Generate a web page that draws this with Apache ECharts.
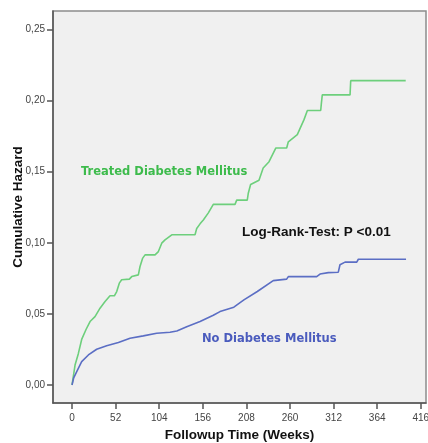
<!DOCTYPE html>
<html>
<head>
<meta charset="utf-8">
<script src="https://cdn.jsdelivr.net/npm/echarts@6/dist/echarts.min.js"></script>
<style>
html,body{margin:0;padding:0;background:#ffffff;}
#c{width:428px;height:443px;}
</style>
</head>
<body>
<div id="c"></div>
<script>
// Treated Diabetes Mellitus: [week, cumulative hazard]
var treatedWeeks = [0,3.6,7.5,11.5,16.7,21.5,27.4,33.4,39.4,45.3,50.5,53.3,56.4,59.2,68.4,71.2,79.1,81.1,84.3,87.1,99,103,107,110.9,119,146.7,148.7,152.7,156.6,162.6,168.5,194.4,196.4,209,210.3,213,223,228,235,243,256,258,268.7,276.7,280.7,296.6,297.4,298.5,331.6,332.4,398];
var treatedHazard = [0,0.014,0.022,0.032,0.039,0.0446,0.048,0.054,0.0587,0.0627,0.0627,0.0657,0.0716,0.074,0.0744,0.0762,0.0774,0.0833,0.0892,0.0915,0.0915,0.0938,0.0997,0.102,0.1056,0.1056,0.110,0.1133,0.116,0.121,0.127,0.127,0.130,0.130,0.135,0.141,0.144,0.1526,0.157,0.1666,0.1666,0.171,0.176,0.1866,0.193,0.193,0.198,0.204,0.204,0.214,0.214];
// No Diabetes Mellitus
var noDmWeeks = [0,2,5.6,11.5,19.5,29.4,41.3,55.3,69.2,85,101,116.9,125,136.8,152.7,168.5,176.5,193,205,221,240,256,258,291.8,295.8,305.7,317.6,319.6,325.6,339.6,341.5,398.4];
var noDmHazard = [0,0.005,0.0094,0.0164,0.0211,0.0251,0.0275,0.0298,0.0329,0.0345,0.0364,0.0371,0.038,0.041,0.0446,0.049,0.0516,0.0547,0.0598,0.0657,0.0734,0.0744,0.0762,0.0762,0.078,0.079,0.0793,0.0845,0.0864,0.0864,0.0884,0.0884];
var xTicks = [0,52,104,156,208,260,312,364,416];
var yTicks = [0,0.05,0.10,0.15,0.20,0.25];
var xTitle = 'Followup Time (Weeks)';
var yTitle = 'Cumulative Hazard';
var treatedLabel = 'Treated Diabetes Mellitus';
var noDmLabel = 'No Diabetes Mellitus';
var testLabel = 'Log-Rank-Test: P <0.01';

function zip(a, b) { return a.map(function (v, i) { return [v, b[i]]; }); }

var font = 'Arial, "Liberation Sans", sans-serif';
var wideFont = '"DejaVu Sans", Verdana, sans-serif';
var chart = echarts.init(document.getElementById('c'));
chart.setOption({
  animation: false,
  backgroundColor: '#ffffff',
  grid: {
    left: 53, top: 11, width: 373, height: 392,
    containLabel: false, outerBoundsMode: 'none',
    show: true, backgroundColor: '#f0f0f0', borderColor: '#8c8c8c', borderWidth: 1.5
  },
  xAxis: {
    type: 'value', min: -22.7, max: 422.2,
    splitLine: { show: false },
    axisLine: { show: true, onZero: false, lineStyle: { color: '#555555', width: 1.5 } },
    axisTick: { show: true, length: 6, customValues: xTicks, lineStyle: { color: '#555555', width: 1.5 } },
    axisLabel: { customValues: xTicks, color: '#444444', fontSize: 10, fontFamily: font, margin: 10, hideOverlap: false },
    name: xTitle, nameLocation: 'middle', nameGap: 24,
    nameTextStyle: { color: '#111111', fontSize: 13.5, fontWeight: 'bold', fontFamily: font }
  },
  yAxis: {
    type: 'value', min: -0.0127, max: 0.263,
    splitLine: { show: false },
    axisLine: { show: true, onZero: false, lineStyle: { color: '#555555', width: 1.5 } },
    axisTick: { show: true, length: 6, customValues: yTicks, lineStyle: { color: '#555555', width: 1.5 } },
    axisLabel: {
      customValues: yTicks, color: '#444444', fontSize: 10, fontFamily: font, margin: 8,
      formatter: function (v) { return v.toFixed(2).replace('.', ','); }
    },
    name: yTitle, nameLocation: 'middle', nameGap: 28, nameMoveOverlap: false,
    nameTextStyle: { color: '#111111', fontSize: 13.5, fontWeight: 'bold', fontFamily: font }
  },
  series: [
    {
      type: 'line', data: zip(treatedWeeks, treatedHazard), showSymbol: false,
      lineStyle: { color: '#6dcf7c', width: 1.6 }, z: 3
    },
    {
      type: 'line', data: zip(noDmWeeks, noDmHazard), showSymbol: false,
      lineStyle: { color: '#5b6ec4', width: 1.6 }, z: 3
    }
  ],
  graphic: [
    { type: 'text', left: 81, top: 166, style: { text: treatedLabel, fill: '#3dbb4c', font: 'bold 11.5px ' + wideFont } },
    { type: 'text', left: 242, top: 225, style: { text: testLabel, fill: '#111111', font: 'bold 13.5px ' + font } },
    { type: 'text', left: 202, top: 333, style: { text: noDmLabel, fill: '#4a5bbd', font: 'bold 11.5px ' + wideFont } }
  ]
});
</script>
</body>
</html>
